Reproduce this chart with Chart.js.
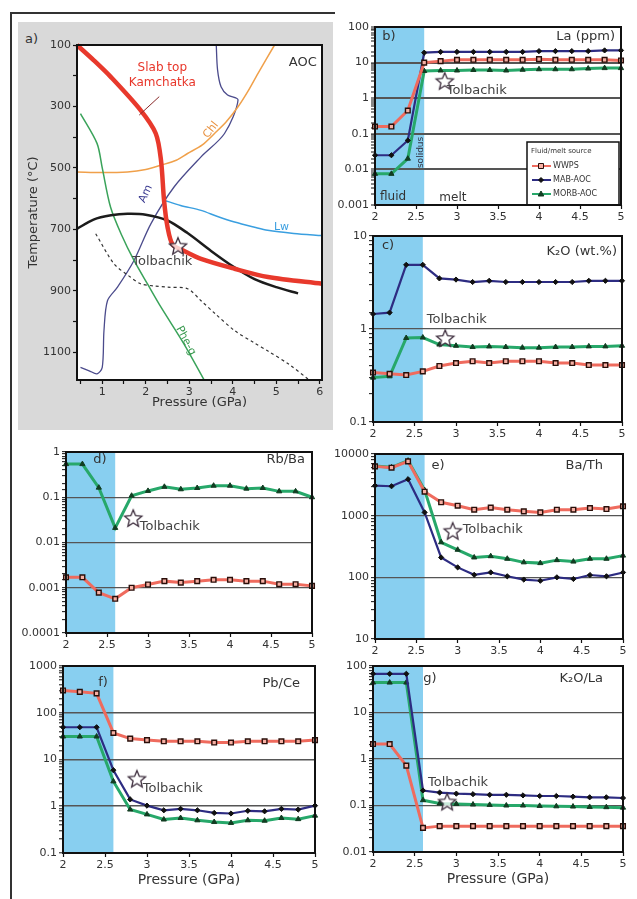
<!DOCTYPE html>
<html><head><meta charset="utf-8">
<script src="https://cdn.jsdelivr.net/npm/chart.js@4.4.1/dist/chart.umd.min.js"></script>
<style>
body{margin:0;background:#fff;width:637px;height:899px;position:relative;overflow:hidden;font-family:"DejaVu Sans",sans-serif;}
canvas{position:absolute;}
.gray{position:absolute;left:18px;top:22px;width:315px;height:408px;background:#d9d9d9;}
.frameL{position:absolute;left:10px;top:12px;width:2px;height:887px;background:#333;}
.frameT{position:absolute;left:10px;top:12px;width:325px;height:2px;background:#333;}
.lbl{position:absolute;font-size:13px;color:#333;}
</style></head><body>
<div class="gray"></div><div class="frameL"></div><div class="frameT"></div>
<div class="lbl" style="left:25px;top:31px;">a)</div>
<script>
// ---------------- DATA ----------------
const pressure = [2.0,2.2,2.4,2.6,2.8,3.0,3.2,3.4,3.6,3.8,4.0,4.2,4.4,4.6,4.8,5.0];
const seriesNames = ['WWPS','MAB-AOC','MORB-AOC'];

// b) La (ppm)
const laWWPS  = [0.16,0.16,0.45,10,11,12,12,12,12,12,12.5,12,12,12,12,11.5];
const laMAB   = [0.025,0.025,0.065,19,20,20,20,20,20,20,21,21,21,21,22,22];
const laMORB  = [0.0075,0.0075,0.02,5.8,6,6,6.2,6.2,6,6.3,6.5,6.5,6.5,6.8,7,7];
// c) K2O (wt.%)
const k2oWWPS = [0.34,0.33,0.32,0.35,0.40,0.43,0.45,0.43,0.45,0.45,0.45,0.43,0.43,0.41,0.41,0.41];
const k2oMAB  = [1.45,1.5,4.9,4.9,3.5,3.4,3.2,3.3,3.2,3.2,3.2,3.2,3.2,3.3,3.3,3.3];
const k2oMORB = [0.30,0.31,0.80,0.81,0.68,0.66,0.64,0.65,0.64,0.63,0.63,0.64,0.64,0.65,0.65,0.66];
// d) Rb/Ba
const rbbaWWPS = [0.0017,0.0017,0.00078,0.00057,0.001,0.00118,0.0014,0.0013,0.0014,0.0015,0.0015,0.0014,0.0014,0.0012,0.0012,0.0011];
const rbbaMORB = [0.54,0.54,0.163,0.021,0.108,0.138,0.17,0.15,0.16,0.18,0.18,0.155,0.16,0.135,0.135,0.1];
// e) Ba/Th
const bathWWPS = [6300,6000,7600,2450,1650,1450,1250,1350,1250,1175,1130,1250,1250,1330,1280,1420];
const bathMAB  = [3070,3000,3900,1130,210,145,110,120,104,92,88,100,94,109,104,120];
const bathMORB = [6400,6080,7800,2600,370,280,210,220,200,175,170,190,180,200,200,225];
// f) Pb/Ce
const pbceWWPS = [300,280,260,37,28,26,24.5,24.5,24.5,23,23,24.5,24.5,24.5,24.5,26];
const pbceMAB  = [49,49,49,5.9,1.4,1.03,0.82,0.88,0.82,0.72,0.70,0.80,0.78,0.88,0.85,1.03];
const pbceMORB = [31,31,31,3.4,0.85,0.67,0.52,0.56,0.50,0.46,0.44,0.50,0.49,0.56,0.53,0.63];
// g) K2O/La
const k2olaWWPS = [2.1,2.1,0.72,0.033,0.036,0.036,0.036,0.036,0.036,0.036,0.036,0.036,0.036,0.036,0.036,0.036];
const k2olaMAB  = [68,68,68,0.21,0.19,0.18,0.175,0.17,0.17,0.165,0.16,0.16,0.155,0.15,0.15,0.145];
const k2olaMORB = [44,44,44,0.13,0.11,0.108,0.105,0.103,0.1,0.1,0.098,0.096,0.095,0.093,0.092,0.09];

// Tolbachik star positions [x, y] per panel
const tolbachikA = [2.74, 753];
const tolbachikB = [2.85, 3.1];
const tolbachikC = [2.87, 0.8];
const tolbachikD = [2.82, 0.035];
const tolbachikE = [2.94, 570];
const tolbachikF = [2.88, 3.9];
const tolbachikG = [2.89, 0.122];

// a) axis ticks
const aPressureTicks = [0.5,1,1.5,2,2.5,3,3.5,4,4.5,5,5.5,6];
const aTempTicks = [100,200,300,400,500,600,700,800,900,1000,1100];

// a) P-T curves (GPa, °C)
const slabP = [0.42,0.8,1.19,1.88,2.23,2.35,2.42,2.5,2.62,2.85,3.27,4.04,4.81,6.05];
const slabT = [100,149,203,312,388,475,605,692,750,768,796,828,855,877];
const solidusP = [0.42,0.8,1.2,1.58,2.0,2.5,2.96,3.5,4.0,4.5,5.0,5.5];
const solidusT = [698,668,654,649,652,671,712,770,820,862,888,908];
const dashedP = [0.85,1.27,1.6,1.88,2.2,2.5,2.96,3.27,3.6,4.04,4.5,4.8,5.3,5.73];
const dashedT = [714,812,850,877,884,888,893,932,975,1029,1070,1095,1140,1187];
const phengP = [0.5,0.88,1.0,1.19,1.45,1.73,2.05,2.35,2.88,3.35];
const phengT = [323,420,500,627,720,801,880,953,1073,1192];
const chlP = [0.42,1.0,1.58,2.0,2.35,2.7,2.96,3.3,3.58,3.85,4.12,4.35,4.58,4.96];
const chlT = [513,515,513,505,491,475,453,425,388,350,301,250,192,100];
const lwP = [2.42,2.8,3.27,3.65,4.04,4.5,4.8,5.4,6.05];
const lwT = [605,622,638,658,676,693,703,713,720];
const amP = [0.5,0.7,0.88,1.0,1.04,1.12,1.35,1.73,2.12,2.65,3.27,3.81,4.12,3.88,3.73,3.65,3.62];
const amT = [1149,1160,1170,1149,1029,932,888,801,681,562,464,388,279,263,236,181,100];

// ---------------- RENDERING ----------------
const FONT = '"DejaVu Sans", "Liberation Sans", sans-serif';
Chart.defaults.font.family = FONT;
Chart.defaults.font.size = 11;
Chart.defaults.color = '#333';
Chart.defaults.animation = false;

function makeStar(r){
  const s = Math.ceil(r*2+4);
  const c = document.createElement('canvas'); c.width = s; c.height = s;
  const g = c.getContext('2d'); g.translate(s/2, s/2+1);
  g.beginPath();
  for (let i=0;i<10;i++){ const rr = i%2 ? r*0.45 : r; const a = -Math.PI/2 + i*Math.PI/5; g.lineTo(rr*Math.cos(a), rr*Math.sin(a)); }
  g.closePath(); g.fillStyle='rgba(255,255,255,0.75)'; g.fill();
  g.strokeStyle='#3b2b3b'; g.lineWidth=1.3; g.stroke();
  return c;
}
const STAR = makeStar(9);

const STY = {
  WWPS: {borderColor:'#ef6b5e', borderWidth:3, pointStyle:'rect', pointRadius:3.3, pointBackgroundColor:'#f6b0a4', pointBorderColor:'#2a0f0a', pointBorderWidth:1.4},
  MAB:  {borderColor:'#2d2c82', borderWidth:2.2, pointStyle:'rectRot', pointRadius:2.6, pointBackgroundColor:'#111', pointBorderColor:'#111', pointBorderWidth:1},
  MORB: {borderColor:'#27a86a', borderWidth:3, pointStyle:'triangle', pointRadius:3, pointBackgroundColor:'#123d22', pointBorderColor:'#123d22', pointBorderWidth:1}
};

const DECOR = {};
function drawTexts(chart, items){
  const {ctx, chartArea:a, scales} = chart;
  items.forEach(it=>{
    let px, py;
    if (it.pos==='tl'){ px=a.left+it.dx; py=a.top+it.dy; }
    else if (it.pos==='tr'){ px=a.right+it.dx; py=a.top+it.dy; }
    else { px=scales.x.getPixelForValue(it.x); py=scales.y.getPixelForValue(it.y); }
    ctx.save(); ctx.translate(px,py); if (it.r) ctx.rotate(it.r*Math.PI/180);
    ctx.font=(it.s||13)+'px '+FONT; ctx.fillStyle=it.c||'#333';
    ctx.textAlign=it.a||'center'; ctx.textBaseline='middle';
    ctx.fillText(it.t,0,0); ctx.restore();
  });
}
function drawMarker(ctx, key, x, y){
  const s = STY[key];
  ctx.save(); ctx.fillStyle=s.pointBackgroundColor; ctx.strokeStyle=s.pointBorderColor; ctx.lineWidth=1;
  ctx.beginPath();
  if (key==='WWPS'){ ctx.rect(x-2.5,y-2.5,5,5); }
  else if (key==='MAB'){ ctx.moveTo(x,y-2.5); ctx.lineTo(x+2.5,y); ctx.lineTo(x,y+2.5); ctx.lineTo(x-2.5,y); ctx.closePath(); }
  else { ctx.moveTo(x,y-3); ctx.lineTo(x+2.8,y+2); ctx.lineTo(x-2.8,y+2); ctx.closePath(); }
  ctx.fill(); ctx.stroke(); ctx.restore();
}
function drawLegend(chart){
  const {ctx, chartArea:a} = chart;
  const w=92, h=63, x=a.right-2-w, y=a.bottom-h;
  ctx.save();
  ctx.fillStyle='#fff'; ctx.fillRect(x,y,w,h);
  ctx.strokeStyle='#111'; ctx.lineWidth=1.5; ctx.strokeRect(x,y,w,h);
  ctx.font='7px '+FONT; ctx.fillStyle='#333'; ctx.textAlign='left'; ctx.textBaseline='middle';
  ctx.fillText('Fluid/melt source', x+4, y+9);
  ['WWPS','MAB','MORB'].forEach((k,i)=>{
    const yy = y+24+i*14;
    ctx.strokeStyle=STY[k].borderColor; ctx.lineWidth=2;
    ctx.beginPath(); ctx.moveTo(x+5,yy); ctx.lineTo(x+24,yy); ctx.stroke();
    drawMarker(ctx,k,x+14,yy);
    ctx.font='8px '+FONT; ctx.fillStyle='#333';
    ctx.fillText(seriesNames[i], x+26, yy);
  });
  ctx.restore();
}

const decor = {
  id:'decor',
  beforeDraw(chart){
    const d = DECOR[chart.canvas.id] || {};
    const {ctx, chartArea:a, scales} = chart;
    ctx.save();
    ctx.fillStyle='#fff'; ctx.fillRect(a.left,a.top,a.right-a.left,a.bottom-a.top);
    if (d.shade){
      const x1=scales.x.getPixelForValue(d.shade[0]), x2=scales.x.getPixelForValue(d.shade[1]);
      ctx.fillStyle='#88cff0'; ctx.fillRect(x1,a.top,x2-x1,a.bottom-a.top);
    }
    ctx.restore();
  },
  afterDatasetsDraw(chart){
    const d = DECOR[chart.canvas.id] || {};
    const {ctx, scales} = chart;
    (d.lines||[]).forEach(l=>{
      ctx.save(); ctx.strokeStyle=l.c; ctx.lineWidth=l.w;
      ctx.beginPath(); ctx.moveTo(scales.x.getPixelForValue(l.x1), scales.y.getPixelForValue(l.y1));
      ctx.lineTo(scales.x.getPixelForValue(l.x2), scales.y.getPixelForValue(l.y2)); ctx.stroke(); ctx.restore();
    });
    if (d.texts) drawTexts(chart, d.texts);
    if (d.legend) drawLegend(chart);
  },
  afterDraw(chart){
    const {ctx, chartArea:a} = chart;
    ctx.save(); ctx.strokeStyle='#111'; ctx.lineWidth=2;
    ctx.strokeRect(a.left,a.top,a.right-a.left,a.bottom-a.top); ctx.restore();
  }
};

function mkCanvas(id, plot, m){
  const c = document.createElement('canvas'); c.id=id;
  const w = plot.r-plot.l+m.l+m.r, h = plot.b-plot.t+m.t+m.b;
  c.width=w; c.height=h;
  c.style.left=(plot.l-m.l)+'px'; c.style.top=(plot.t-m.t)+'px';
  c.style.width=w+'px'; c.style.height=h+'px';
  document.body.appendChild(c);
  return c;
}
function isDecade(v){ if(!(v>0)) return false; const l=Math.log10(v); return Math.abs(l-Math.round(l))<1e-6; }
function logLabel(v){
  if (!isDecade(v)) return '';
  const e = Math.round(Math.log10(v));
  return e>=0 ? String(Math.pow(10,e)) : '0.'+'0'.repeat(-e-1)+'1';
}

function logPanel(id, plot, m, yMin, yMax, series, star, deco, xTitle, gw){
  const canvas = mkCanvas(id, plot, m);
  DECOR[id] = deco;
  const ds = [{label:'Tolbachik', data:[{x:star[0], y:star[1]}], showLine:false, pointStyle:STAR, pointRadius:10, order:0, clip:false}];
  series.forEach((s,i)=>ds.push(Object.assign({label:s.name, data:pressure.map((p,j)=>({x:p, y:s.values[j]})), tension:0, order:1+i, clip:false}, STY[s.key])));
  new Chart(canvas, {
    type:'line', data:{datasets:ds},
    options:{
      responsive:false, devicePixelRatio:1, animation:false,
      layout:{padding:{left:0, top:m.t, right:m.r, bottom:0}},
      plugins:{legend:{display:false}, tooltip:{enabled:false}},
      scales:{
        x:{type:'linear', min:2, max:5, afterFit:s=>{s.height=m.b;},
           ticks:{stepSize:0.5, autoSkip:false, maxRotation:0, padding:2, callback:v=>String(Math.round(v*10)/10)},
           grid:{drawOnChartArea:false, tickLength:4, tickColor:'#111', tickWidth:1.2},
           border:{display:false},
           title:{display:!!xTitle, text:xTitle||'', font:{size:14}, color:'#333', padding:{top:0,bottom:2}}},
        y:{type:'logarithmic', min:yMin, max:yMax, afterFit:s=>{s.width=m.l;},
           ticks:{autoSkip:false, padding:2, callback:v=>logLabel(v)},
           grid:{color:ctx=>{const v=ctx.tick&&ctx.tick.value; return (isDecade(v)&&v>yMin*1.001&&v<yMax*0.999)?'#555':'rgba(0,0,0,0)';},
                 lineWidth:gw||1.4, tickLength:4, tickColor:'#111', tickWidth:1},
           border:{display:false}}
      }
    },
    plugins:[decor]
  });
}

const M = {l:48, t:10, r:12, b:20};
const MB = {l:48, t:10, r:12, b:38};
const tol = (x,y,a)=>({x, y, t:'Tolbachik', a:a||'center', c:'#444'});

logPanel('pb', {l:375,t:26,r:621,b:205}, M, 0.001, 100,
  [{key:'WWPS',name:seriesNames[0],values:laWWPS},{key:'MAB',name:seriesNames[1],values:laMAB},{key:'MORB',name:seriesNames[2],values:laMORB}],
  tolbachikB,
  {shade:[2,2.6], legend:true, texts:[
    {pos:'tl',dx:14,dy:10,t:'b)'}, {pos:'tr',dx:-6,dy:10,t:'La (ppm)',a:'right'},
    tol(3.24,1.6), {x:2.22,y:0.0017,t:'fluid',s:12}, {x:2.95,y:0.0016,t:'melt',s:12},
    {x:2.56,y:0.03,t:'solidus',s:9,r:-90,c:'#334'}
  ]}, null, 2);

logPanel('pc', {l:373,t:235,r:622,b:422}, M, 0.1, 10,
  [{key:'WWPS',name:seriesNames[0],values:k2oWWPS},{key:'MAB',name:seriesNames[1],values:k2oMAB},{key:'MORB',name:seriesNames[2],values:k2oMORB}],
  tolbachikC,
  {shade:[2,2.6], texts:[
    {pos:'tl',dx:15,dy:10,t:'c)'}, {pos:'tr',dx:-5,dy:16,t:'K\u2082O (wt.%)',a:'right'},
    tol(3.01,1.25)
  ]}, null, 1.3);

logPanel('pd', {l:66,t:451,r:312,b:633}, M, 0.0001, 1,
  [{key:'WWPS',name:seriesNames[0],values:rbbaWWPS},{key:'MORB',name:seriesNames[2],values:rbbaMORB}],
  tolbachikD,
  {shade:[2,2.6], texts:[
    {pos:'tl',dx:34,dy:8,t:'d)'}, {pos:'tr',dx:-7,dy:8,t:'Rb/Ba',a:'right'},
    tol(2.9,0.023,'left')
  ]}, null, 1.3);

logPanel('pe', {l:375,t:453,r:623,b:639}, M, 10, 10000,
  [{key:'WWPS',name:seriesNames[0],values:bathWWPS},{key:'MAB',name:seriesNames[1],values:bathMAB},{key:'MORB',name:seriesNames[2],values:bathMORB}],
  tolbachikE,
  {shade:[2,2.6], texts:[
    {pos:'tl',dx:63,dy:12,t:'e)'}, {pos:'tr',dx:-20,dy:12,t:'Ba/Th',a:'right'},
    tol(3.06,590,'left')
  ]}, null, 1.3);

logPanel('pf', {l:63,t:665,r:315,b:853}, MB, 0.1, 1000,
  [{key:'WWPS',name:seriesNames[0],values:pbceWWPS},{key:'MAB',name:seriesNames[1],values:pbceMAB},{key:'MORB',name:seriesNames[2],values:pbceMORB}],
  tolbachikF,
  {shade:[2,2.6], texts:[
    {pos:'tl',dx:40,dy:17,t:'f)'}, {pos:'tr',dx:-15,dy:18,t:'Pb/Ce',a:'right'},
    tol(2.95,2.4,'left')
  ]}, 'Pressure (GPa)', 1.6);

logPanel('pg', {l:373,t:665,r:623,b:852}, MB, 0.01, 100,
  [{key:'WWPS',name:seriesNames[0],values:k2olaWWPS},{key:'MAB',name:seriesNames[1],values:k2olaMAB},{key:'MORB',name:seriesNames[2],values:k2olaMORB}],
  tolbachikG,
  {shade:[2,2.6], texts:[
    {pos:'tl',dx:57,dy:13,t:'g)'}, {pos:'tr',dx:-20,dy:13,t:'K\u2082O/La',a:'right'},
    tol(3.02,0.31)
  ]}, 'Pressure (GPa)', 1.3);

// ---- panel a ----
(function(){
  const plot = {l:77,t:45,r:323,b:380}, m = {l:55,t:12,r:10,b:32};
  const canvas = mkCanvas('pa', plot, m);
  DECOR.pa = {
    lines:[{x1:2.31,y1:268,x2:1.85,y2:328,c:'#8a2a2a',w:1}],
    texts:[
      {x:5.93,y:158,t:'AOC',a:'right'},
      {x:2.38,y:175,t:'Slab top',c:'#e8362a',s:12},
      {x:2.38,y:223,t:'Kamchatka',c:'#e8362a',s:12},
      {x:3.5,y:377,t:'Chl',c:'#e8903e',s:11,r:-52},
      {x:2.0,y:584,t:'Am',c:'#3a3a90',s:11,r:-65},
      {x:5.12,y:692,t:'Lw',c:'#3a9ee0',s:11},
      {x:2.92,y:1062,t:'Phe-g',c:'#3a9a50',s:11,r:62},
      {x:2.38,y:805,t:'Tolbachik',c:'#444'}
    ]
  };
  const curve = (P,T,c,w,extra)=>Object.assign({data:P.map((p,i)=>({x:p,y:T[i]})), showLine:true, pointRadius:0, borderColor:c, borderWidth:w, tension:0.3, clip:false}, extra||{});
  new Chart(canvas, {
    type:'scatter',
    data:{datasets:[
      {label:'Tolbachik', data:[{x:tolbachikA[0], y:tolbachikA[1]}], pointStyle:STAR, pointRadius:10, clip:false},
      curve(slabP, slabT, '#e8392c', 4.5),
      curve(solidusP, solidusT, '#1c1c1c', 2.5),
      curve(dashedP, dashedT, '#333', 1.2, {borderDash:[3,3]}),
      curve(phengP, phengT, '#3aa35a', 1.5),
      curve(chlP, chlT, '#f0a04a', 1.5),
      curve(lwP, lwT, '#3a9fe0', 1.5),
      curve(amP, amT, '#4b4b8c', 1.3)
    ]},
    options:{
      responsive:false, devicePixelRatio:1, animation:false,
      layout:{padding:{left:0, top:m.t, right:m.r, bottom:0}},
      plugins:{legend:{display:false}, tooltip:{enabled:false}},
      scales:{
        x:{type:'linear', min:0.42, max:6.05, afterFit:s=>{s.height=m.b;},
           afterBuildTicks:s=>{s.ticks = aPressureTicks.map(v=>({value:v}));},
           ticks:{autoSkip:false, maxRotation:0, padding:2,
                  callback:v=>{const r=Math.round(v*100)/100; return Number.isInteger(r)?String(r):'';}},
           grid:{drawOnChartArea:false, tickLength:4, tickColor:'#111', tickWidth:1.2},
           border:{display:false},
           title:{display:true, text:'Pressure (GPa)', font:{size:13}, color:'#333', padding:{top:0,bottom:2}}},
        y:{type:'linear', reverse:true, min:100, max:1190, afterFit:s=>{s.width=m.l;},
           afterBuildTicks:s=>{s.ticks = aTempTicks.map(v=>({value:v}));},
           ticks:{autoSkip:false, padding:2,
                  callback:v=>(Math.round(v)%200===100)?String(Math.round(v)):''},
           grid:{drawOnChartArea:false, tickLength:4, tickColor:'#111', tickWidth:1.2},
           border:{display:false},
           title:{display:true, text:'Temperature (\u00B0C)', font:{size:13}, color:'#333', padding:{top:4,bottom:0}}}
      }
    },
    plugins:[decor]
  });
})();
</script>
</body></html>
